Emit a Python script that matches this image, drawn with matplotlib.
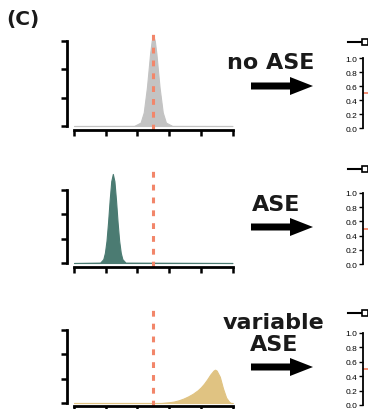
import matplotlib
matplotlib.use("Agg")
import matplotlib.pyplot as plt
from matplotlib.patches import FancyArrow
from matplotlib.lines import Line2D

W, H = 368, 410

# ---- data ----
x_noase = [0.0, 0.38, 0.42, 0.44, 0.46, 0.47, 0.48, 0.49, 0.50, 0.51, 0.52, 0.53, 0.54, 0.56, 0.58, 0.62, 1.0]
y_noase = [0.0, 0.003, 0.12, 0.48, 1.36, 1.95, 2.55, 3.00, 3.20, 3.00, 2.55, 1.95, 1.36, 0.48, 0.12, 0.003, 0.0]

x_ase = [0.0, 0.165, 0.185, 0.195, 0.205, 0.215, 0.225, 0.235, 0.245, 0.255, 0.265, 0.275, 0.285, 0.295, 0.305, 0.325, 1.0]
y_ase = [0.0, 0.014, 0.16, 0.42, 0.91, 1.68, 2.59, 3.36, 3.66, 3.36, 2.59, 1.68, 0.91, 0.42, 0.16, 0.014, 0.0]

x_var = [0.0, 0.55, 0.60, 0.63, 0.66, 0.69, 0.72, 0.75, 0.78, 0.80, 0.82, 0.84, 0.86, 0.88, 0.89, 0.90, 0.92, 0.94, 0.96, 0.98, 0.99, 1.0]
y_var = [0.0, 0.0, 0.03, 0.06, 0.11, 0.18, 0.27, 0.38, 0.52, 0.64, 0.79, 0.97, 1.17, 1.33, 1.37, 1.33, 1.08, 0.60, 0.22, 0.04, 0.0, 0.0]

ref_line = 0.5
x_ticks = [0, 0.2, 0.4, 0.6, 0.8, 1.0]
y_ticks = [0, 1, 2, 3]
right_ticks = [0.0, 0.2, 0.4, 0.6, 0.8, 1.0]
right_ticklabels = ["0.0", "0.2", "0.4", "0.6", "0.8", "1.0"]
labels = ["no ASE", "ASE", "variable\nASE"]
colors = ["#c3c3c3", "#4b7b72", "#e0c382"]
dash_color = "#f2866a"

fig = plt.figure(figsize=(W / 100, H / 100), dpi=100)

def fx(px):
    return px / W

def fy(py):
    return 1 - py / H

panels = [
    dict(top=33, bot=131, y0=127, y3=42, x=x_noase, y=y_noase),
    dict(top=172, bot=268, y0=264, y3=191, x=x_ase, y=y_ase),
    dict(top=311, bot=407, y0=404, y3=331, x=x_var, y=y_var),
]
left_px, right_px, x0_px, x1_px = 67, 233, 74, 232.5

for i, p in enumerate(panels):
    ax = fig.add_axes([fx(left_px), fy(p["bot"]), fx(right_px) - fx(left_px),
                       (p["bot"] - p["top"]) / H])
    ppu_y = (p["y0"] - p["y3"]) / 3.0
    ppu_x = (x1_px - x0_px) / 1.0
    ax.set_ylim(-(p["bot"] - p["y0"]) / ppu_y, (p["y0"] - p["top"]) / ppu_y)
    ax.set_xlim(-(x0_px - left_px) / ppu_x, 1.0 + (right_px - x1_px) / ppu_x)
    ax.fill_between(p["x"], 0, p["y"], color=colors[i], lw=0.8, ec=colors[i])
    ax.axvline(ref_line, color=dash_color, lw=2.2, ls=(0, (1.9, 2.3)))
    for s in ["top", "right"]:
        ax.spines[s].set_visible(False)
    ax.spines["left"].set_bounds(0, 3)
    ax.spines["bottom"].set_bounds(0, 1)
    ax.spines["left"].set_linewidth(2.0)
    ax.spines["bottom"].set_linewidth(2.0)
    ax.set_xticks(x_ticks)
    ax.set_yticks(y_ticks)
    ax.tick_params(axis="both", length=4, width=1.8, labelleft=False, labelbottom=False)
    ax.patch.set_alpha(0)

right_axes = [(59, 129), (194, 265), (334, 406)]
top_lines = [43, 170, 314]
for (y1, y0), tl in zip(right_axes, top_lines):
    ax = fig.add_axes([fx(363), fy(y0), 0.2, (y0 - y1) / H])
    ax.set_ylim(0, 1)
    ax.set_xlim(0, 1)
    ax.axhline(0.5, color=dash_color, lw=1.3)
    for s in ["top", "right", "bottom"]:
        ax.spines[s].set_visible(False)
    ax.spines["left"].set_linewidth(1.3)
    ax.set_xticks([])
    ax.set_yticks(right_ticks)
    ax.set_yticklabels(right_ticklabels)
    ax.tick_params(axis="y", length=3, width=1.0, labelsize=6, pad=1)
    ax.patch.set_alpha(0)
    for t in ax.get_yticklabels():
        t.set_family("Liberation Sans")

ov = fig.add_axes([0, 0, 1, 1])
ov.set_xlim(0, W)
ov.set_ylim(H, 0)
ov.axis("off")
ov.patch.set_alpha(0)

ov.text(6, 19, "(C)", fontsize=14.5, fontweight="bold", family="DejaVu Sans",
        ha="left", va="center", color="#1a1a1a")

text_pos = [(271, 63), (276, 205), (274, 334)]
arrow_y = [87, 228, 368]
for lab, (tx, ty), ay in zip(labels, text_pos, arrow_y):
    ov.text(tx, ty, lab, fontsize=16, fontweight="bold", family="DejaVu Sans",
            ha="center", va="center", linespacing=1.1, color="#1a1a1a")
    ov.add_patch(FancyArrow(251, ay, 62, 0, width=7, head_width=18, head_length=23,
                            length_includes_head=True, color="black", lw=0))

for tl in top_lines:
    ov.add_line(Line2D([348, 368], [tl, tl], color="black", lw=1.5))
    ov.plot([365], [tl], marker="s", ms=4, mfc="white", mec="black", mew=1.2)

fig.savefig("out.png", dpi=100)
